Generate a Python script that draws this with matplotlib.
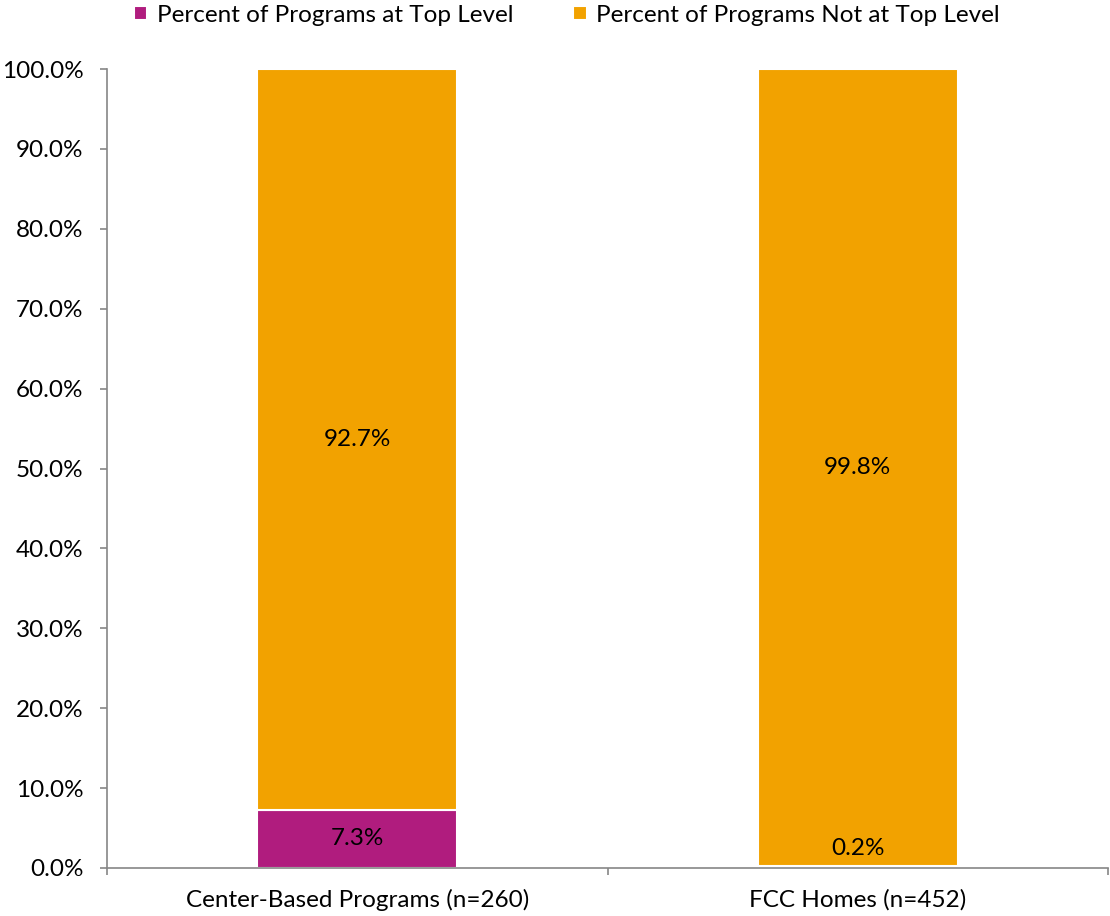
import matplotlib.pyplot as plt
import matplotlib.patheffects as pe
from matplotlib.ticker import FuncFormatter, FixedLocator

plt.rcParams['font.family'] = ['Lato', 'DejaVu Sans']

categories = ['Center-Based Programs (n=260)', 'FCC Homes (n=452)']
top_level = [7.3, 0.2]
not_top_level = [92.7, 99.8]
series_names = ['Percent of Programs at Top Level', 'Percent of Programs Not at Top Level']
colors = ['#B01C7E', '#F2A200']
fs = 17.5

fig = plt.figure(figsize=(11.10, 9.16), dpi=100)
ax = fig.add_axes([107 / 1110, 48 / 916, 1001 / 1110, 799 / 916])

x = list(range(len(categories)))
shadow = [pe.SimplePatchShadow(offset=(0, 0), shadow_rgbFace='#999999', alpha=0.5), pe.Normal()]
b1 = ax.bar(x, top_level, width=0.4, color=colors[0], edgecolor='white', linewidth=1.5,
            label=series_names[0], path_effects=shadow)
b2 = ax.bar(x, not_top_level, width=0.4, bottom=top_level, color=colors[1], edgecolor='white',
            linewidth=1.5, label=series_names[1], path_effects=shadow)

# data labels
for i in x:
    if top_level[i] > 2:
        ax.text(i, top_level[i] / 2, f'{top_level[i]:.1f}%', ha='center', va='center', fontsize=fs)
    else:
        ax.text(i, 2.5, f'{top_level[i]:.1f}%', ha='center', va='center', fontsize=fs)
    ax.text(i, top_level[i] + not_top_level[i] / 2, f'{not_top_level[i]:.1f}%',
            ha='center', va='center', fontsize=fs)

ax.set_xlim(-0.5, 1.5)
ax.set_ylim(0, 100)
ax.yaxis.set_major_locator(FixedLocator([i * 10 for i in range(11)]))
ax.yaxis.set_major_formatter(FuncFormatter(lambda v, p: f'{v:.1f}%'))
ax.set_xticks(x)
ax.set_xticklabels(categories, fontsize=fs)
ax.xaxis.set_minor_locator(FixedLocator([-0.5, 0.5, 1.5]))
ax.tick_params(axis='x', which='major', length=0, pad=15)
ax.tick_params(axis='x', which='minor', length=5, color='#868686', width=1.2)
ax.tick_params(axis='y', labelsize=fs, length=5, color='#868686', width=1.2, pad=12)

for s in ['top', 'right']:
    ax.spines[s].set_visible(False)
for s in ['left', 'bottom']:
    ax.spines[s].set_color('#868686')
    ax.spines[s].set_linewidth(1.2)

fig.legend(handles=[b1, b2], loc='center', bbox_to_anchor=(567 / 1110, 1 - 15 / 916), ncol=2,
           frameon=False, fontsize=fs, handlelength=0.55, handleheight=0.55, handletextpad=0.4,
           columnspacing=2.45)

fig.savefig('out.png', dpi=100)
